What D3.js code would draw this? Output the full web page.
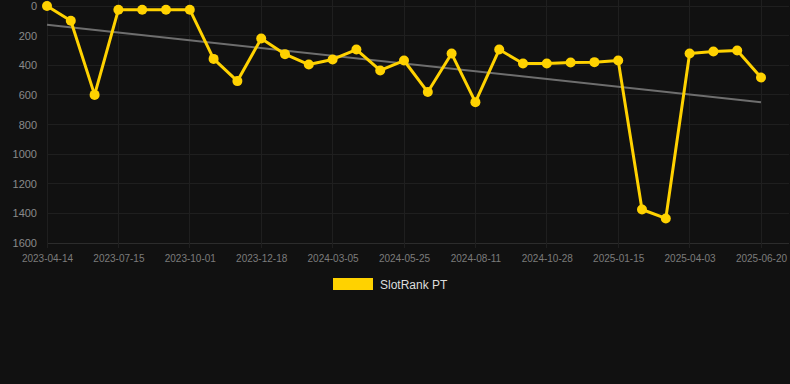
<!DOCTYPE html>
<html>
<head>
<meta charset="utf-8">
<script src="https://cdn.jsdelivr.net/npm/d3@7"></script>
<style>
html,body{margin:0;padding:0;background:#111111;}
svg{display:block;}
</style>
</head>
<body>
<div id="chart"></div>
<script>
const categories = [
  "2023-04-14","2023-05-14","2023-06-14","2023-07-15","2023-08-10","2023-09-05",
  "2023-10-01","2023-10-27","2023-11-22","2023-12-18","2024-01-13","2024-02-08",
  "2024-03-05","2024-04-01","2024-04-28","2024-05-25","2024-06-20","2024-07-16",
  "2024-08-11","2024-09-06","2024-10-02","2024-10-28","2024-11-23","2024-12-20",
  "2025-01-15","2025-02-10","2025-03-08","2025-04-03","2025-04-29","2025-05-25",
  "2025-06-20"
];
const rankValues = [
  0, 100, 600, 25, 25, 25,
  25, 357, 507, 220, 325, 395,
  361, 294, 435, 368, 581, 321,
  649, 294, 388, 388, 381, 379,
  368, 1374, 1434, 321, 307, 301,
  483
];
const xTickLabels = ["2023-04-14","2023-07-15","2023-10-01","2023-12-18","2024-03-05","2024-05-25","2024-08-11","2024-10-28","2025-01-15","2025-04-03","2025-06-20"];
const yTicks = [0,200,400,600,800,1000,1200,1400,1600];
const seriesName = "SlotRank PT";

(function () {
const W = 790, H = 384;
const mLeft = 47, mRight = 761, mTop = 6, mBottom = 243;

const svg = d3.select("#chart").append("svg").attr("width", W).attr("height", H)
  .style("background", "#111111");

const x = d3.scalePoint().domain(categories).range([mLeft, mRight]);
const y = d3.scaleLinear().domain([0, 1600]).range([mTop, mBottom]);

// grid
const g = svg.append("g");
g.selectAll("line.h").data(yTicks).join("line")
  .attr("x1", mLeft).attr("x2", mRight + 28)
  .attr("y1", d => y(d)).attr("y2", d => y(d))
  .attr("stroke", d => d === 1600 ? "#2c2c2c" : "#1f1f1f").attr("stroke-width", 1)
  .attr("shape-rendering", "crispEdges");
g.selectAll("line.v").data(xTickLabels).join("line")
  .attr("x1", d => x(d)).attr("x2", d => x(d))
  .attr("y1", 0).attr("y2", mBottom + 5)
  .attr("stroke", "#1f1f1f").attr("stroke-width", 1)
  .attr("shape-rendering", "crispEdges");

// y axis labels
const yAxis = d3.axisLeft(y).tickValues(yTicks).tickSize(0).tickPadding(0).tickFormat(d3.format("d"));
const ya = svg.append("g").attr("transform", "translate(37,0)").call(yAxis);
ya.select(".domain").remove();
ya.selectAll("text").attr("fill", "#8a8a8a").style("font", "11px 'Liberation Sans', Arial, sans-serif");

// x axis labels
const xAxis = d3.axisBottom(x).tickValues(xTickLabels).tickSize(0).tickPadding(0);
const xa = svg.append("g").attr("transform", `translate(0,${mBottom + 12})`).call(xAxis);
xa.select(".domain").remove();
xa.selectAll("text").attr("fill", "#7c7c7c").style("font", "10px 'Liberation Sans', Arial, sans-serif");

// trend line (least squares)
const n = rankValues.length;
const idx = d3.range(n);
const mx = d3.mean(idx), my = d3.mean(rankValues);
const slope = d3.sum(idx, i => (i - mx) * (rankValues[i] - my)) / d3.sum(idx, i => (i - mx) * (i - mx));
const icpt = my - slope * mx;
svg.append("line")
  .attr("x1", x(categories[0])).attr("y1", y(icpt))
  .attr("x2", x(categories[n - 1])).attr("y2", y(icpt + slope * (n - 1)))
  .attr("stroke", "#6e6e6e").attr("stroke-width", 2);

// series line
const line = d3.line().x((d, i) => x(categories[i])).y(d => y(d));
svg.append("path").datum(rankValues)
  .attr("d", line).attr("fill", "none")
  .attr("stroke", "#FFD200").attr("stroke-width", 3).attr("stroke-linejoin", "round");

svg.selectAll("circle.pt").data(rankValues).join("circle")
  .attr("cx", (d, i) => x(categories[i])).attr("cy", d => y(d))
  .attr("r", 5).attr("fill", "#FFD200");

// legend
const lg = svg.append("g");
lg.append("rect").attr("x", 333).attr("y", 278).attr("width", 40).attr("height", 12).attr("fill", "#FFD200");
lg.append("text").attr("x", 380).attr("y", 289).text(seriesName)
  .attr("fill", "#dddddd").style("font", "12px 'Liberation Sans', Arial, sans-serif");
})();
</script>
</body>
</html>
